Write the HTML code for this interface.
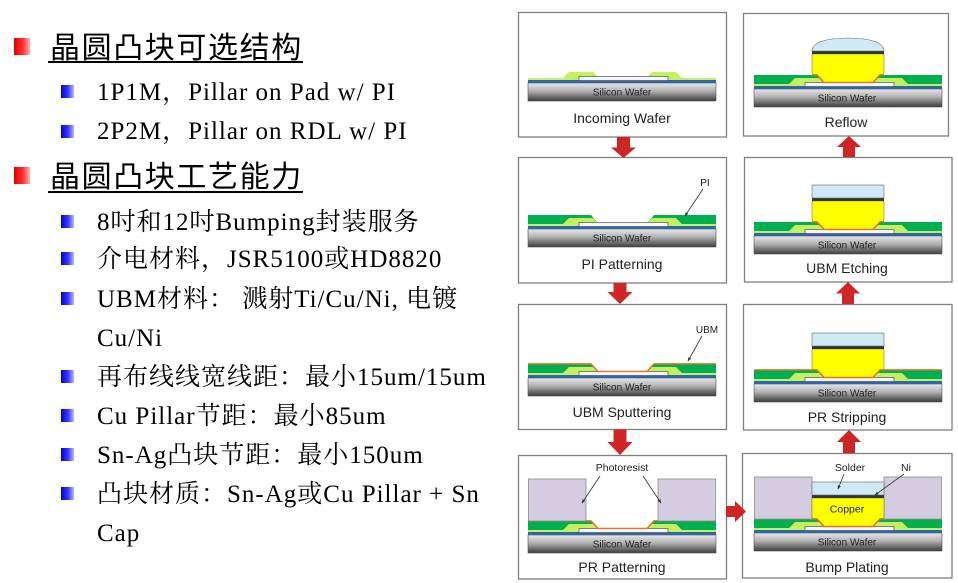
<!DOCTYPE html>
<html><head><meta charset="utf-8">
<style>
html,body{margin:0;padding:0;background:#fff;}
body{width:958px;height:583px;position:relative;overflow:hidden;}
.h{position:absolute;left:50px;font-family:"Liberation Sans","Noto Sans CJK SC",sans-serif;font-size:30px;line-height:36px;letter-spacing:1.6px;white-space:nowrap;color:#000;}
.ul{position:absolute;left:48px;width:255px;height:1.6px;background:#000;}
.rb{position:absolute;left:14px;width:16px;height:17px;background:linear-gradient(to right,#e00000,#ff3030 55%,#ffb0b0);}
.bb{position:absolute;left:61px;width:13px;height:13px;background:linear-gradient(to right,#0000e0,#3a3aff 55%,#b8b8ff);}
.s{position:absolute;left:97px;font-family:"Liberation Serif","Noto Serif CJK SC",serif;font-size:25px;line-height:30px;letter-spacing:1px;white-space:nowrap;color:#000;}
svg{position:absolute;left:0;top:0;}
.sw{font-family:"Liberation Sans",sans-serif;font-size:10px;fill:#222;text-anchor:middle;}
.lb{font-family:"Liberation Sans",sans-serif;font-size:14px;fill:#222;text-anchor:middle;}
.cl{font-family:"Liberation Sans",sans-serif;font-size:10px;fill:#222;text-anchor:middle;}
</style></head><body>

<div class="rb" style="top:38px"></div>
<div class="h" style="top:30.5px">晶圆凸块可选结构</div>
<div class="ul" style="top:61px"></div>

<div class="bb" style="top:85px"></div>
<div class="s" style="top:77.5px">1P1M，Pillar on Pad w/ PI</div>
<div class="bb" style="top:124.5px"></div>
<div class="s" style="top:116.5px">2P2M，Pillar on RDL w/ PI</div>

<div class="rb" style="top:167px"></div>
<div class="h" style="top:160px">晶圆凸块工艺能力</div>
<div class="ul" style="top:191px"></div>

<div class="bb" style="top:215px"></div>
<div class="s" style="top:207.5px">8吋和12吋Bumping封装服务</div>
<div class="bb" style="top:252px"></div>
<div class="s" style="top:245px">介电材料，JSR5100或HD8820</div>
<div class="bb" style="top:292px"></div>
<div class="s" style="top:284.5px">UBM材料： 溅射Ti/Cu/Ni, 电镀</div>
<div class="s" style="top:323.5px">Cu/Ni</div>
<div class="bb" style="top:369.5px"></div>
<div class="s" style="top:362.5px">再布线线宽线距：最小15um/15um</div>
<div class="bb" style="top:408.5px"></div>
<div class="s" style="top:401.5px">Cu Pillar节距：最小85um</div>
<div class="bb" style="top:447.5px"></div>
<div class="s" style="top:440.5px">Sn-Ag凸块节距：最小150um</div>
<div class="bb" style="top:486.5px"></div>
<div class="s" style="top:479.5px">凸块材质：Sn-Ag或Cu Pillar + Sn</div>
<div class="s" style="top:518.5px">Cap</div>

<svg width="958" height="583" viewBox="0 0 958 583" xmlns="http://www.w3.org/2000/svg">
<defs>
<linearGradient id="gw" x1="0" y1="0" x2="0" y2="1">
 <stop offset="0" stop-color="#e8e8e8"/>
 <stop offset="0.45" stop-color="#b0b0b0"/>
 <stop offset="1" stop-color="#3c3c3c"/>
</linearGradient>
<marker id="ah" viewBox="0 0 10 10" refX="9" refY="5" markerWidth="5" markerHeight="5" orient="auto"><path d="M0,1 L10,5 L0,9 Z" fill="#333"/></marker>
<g id="wafer">
 <rect x="0" y="0" width="188" height="18" fill="url(#gw)" stroke="#505050" stroke-width="0.6"/>
 <rect x="0" y="-3" width="188" height="3" fill="#2d66aa"/>
</g>
<g id="pi">
 <polygon points="0,-4 0,-14 63,-14 70,-6 51,-6 51,-4" fill="#00b050"/>
 <polygon points="188,-4 188,-14 126,-14 119,-6 140,-6 140,-4" fill="#00b050"/>
</g>
<g id="pass">
 <path d="M0,-3 V-5 H35 L41,-11 H65 L70,-6 H119 L124,-11 H148 L154,-5 H188 V-3 Z" fill="#c4ef5e"/>
 <rect x="51" y="-6.5" width="89" height="4" fill="#f6f6f6" stroke="#555" stroke-width="0.7"/>
</g>
<polyline id="ubm" points="0,-14.2 63,-14.2 70,-6.6 119,-6.6 126,-14.2 188,-14.2" fill="none" stroke="#f07022" stroke-width="1.4"/>
<g id="pr">
 <rect x="0.5" y="-56" width="57.5" height="42" fill="#d4cce0" stroke="#8c8c8c" stroke-width="0.8"/>
 <rect x="130" y="-56" width="57.5" height="42" fill="#d4cce0" stroke="#8c8c8c" stroke-width="0.8"/>
</g>
<g id="cu">
 <path d="M58,-35 H130 V-16 Q130,-14.2 127,-14.2 H126 L119,-6.6 H70 L63,-14.2 H61 Q58,-14.2 58,-16 Z" fill="#ffff00" stroke="#777" stroke-width="0.6"/>
 <polyline points="58,-14.2 63,-14.2 70,-6.6 119,-6.6 126,-14.2 130,-14.2" fill="none" stroke="#f07022" stroke-width="1.4"/>
 <rect x="58" y="-38" width="72" height="3" fill="#333"/>
</g>
<rect id="sol" x="58" y="-51" width="72" height="13" fill="#cfe9f6" stroke="#666" stroke-width="0.6"/>
</defs>

<!-- Panel boxes -->
<g fill="#fff" stroke="#808080" stroke-width="1.3">
 <rect x="518.5" y="12.5" width="208" height="124.5"/>
 <rect x="518.5" y="157.5" width="208" height="125.5"/>
 <rect x="518.5" y="304.5" width="208" height="125"/>
 <rect x="518.5" y="455.5" width="208" height="123.5"/>
 <rect x="743.5" y="13.5" width="205" height="122.5"/>
 <rect x="744.5" y="157.5" width="207.5" height="124.5"/>
 <rect x="743.5" y="304.5" width="208.5" height="125.5"/>
 <rect x="742.5" y="453.5" width="209.5" height="124.5"/>
</g>

<!-- Incoming Wafer -->
<g transform="translate(528,83)">
 <use href="#wafer"/><use href="#pass"/>
 <text class="sw" x="94" y="12.5">Silicon Wafer</text>
</g>
<text class="lb" x="622" y="123">Incoming Wafer</text>

<!-- PI Patterning -->
<g transform="translate(528,229)">
 <use href="#wafer"/><use href="#pi"/><use href="#pass"/>
 <text class="sw" x="94" y="12.5">Silicon Wafer</text>
</g>
<text class="cl" x="705" y="186">PI</text>
<line x1="703" y1="189" x2="685" y2="216" stroke="#333" stroke-width="0.8" marker-end="url(#ah)"/>
<text class="lb" x="622" y="269">PI Patterning</text>

<!-- UBM Sputtering -->
<g transform="translate(528,378)">
 <use href="#wafer"/><use href="#pi"/><use href="#pass"/><use href="#ubm"/>
 <text class="sw" x="94" y="12.5">Silicon Wafer</text>
</g>
<text class="cl" x="707" y="333">UBM</text>
<line x1="702" y1="336" x2="688" y2="361" stroke="#333" stroke-width="0.8" marker-end="url(#ah)"/>
<text class="lb" x="622" y="417">UBM Sputtering</text>

<!-- PR Patterning -->
<g transform="translate(528,535)">
 <use href="#wafer"/><use href="#pi"/><use href="#pass"/><use href="#ubm"/><use href="#pr"/>
 <text class="sw" x="94" y="12.5">Silicon Wafer</text>
</g>
<text class="cl" x="622" y="471" style="font-size:10.5px">Photoresist</text>
<line x1="600" y1="476" x2="582" y2="503" stroke="#333" stroke-width="0.8" marker-end="url(#ah)"/>
<line x1="643" y1="476" x2="661" y2="503" stroke="#333" stroke-width="0.8" marker-end="url(#ah)"/>
<text class="lb" x="622" y="572">PR Patterning</text>

<!-- Reflow -->
<g transform="translate(754,89)">
 <use href="#wafer"/><use href="#pi"/><use href="#pass"/><use href="#cu"/>
 <path d="M58,-38 C58,-47 74,-51 94,-51 C114,-51 130,-47 130,-38 Z" fill="#cfe9f6" stroke="#666" stroke-width="0.6"/>
 <text class="sw" x="93" y="12.5">Silicon Wafer</text>
</g>
<text class="lb" x="846" y="127">Reflow</text>

<!-- UBM Etching -->
<g transform="translate(754,236)">
 <use href="#wafer"/><use href="#pi"/><use href="#pass"/><use href="#cu"/><use href="#sol"/>
 <text class="sw" x="93" y="12.5">Silicon Wafer</text>
</g>
<text class="lb" x="847" y="273">UBM Etching</text>

<!-- PR Stripping -->
<g transform="translate(754,384)">
 <use href="#wafer"/><use href="#pi"/><use href="#pass"/><use href="#ubm"/><use href="#cu"/><use href="#sol"/>
 <text class="sw" x="93" y="12.5">Silicon Wafer</text>
</g>
<text class="lb" x="847" y="422">PR Stripping</text>

<!-- Bump Plating -->
<g transform="translate(754,533)">
 <use href="#wafer"/><use href="#pi"/><use href="#pass"/><use href="#ubm"/><use href="#pr"/><use href="#cu"/><use href="#sol"/>
 <text class="sw" x="93" y="12.5">Silicon Wafer</text>
 <text class="cl" x="93" y="-20.5" style="font-size:10.5px">Copper</text>
</g>
<text class="cl" x="850" y="471" style="font-size:10.5px">Solder</text>
<line x1="844" y1="474" x2="838" y2="489" stroke="#333" stroke-width="0.8" marker-end="url(#ah)"/>
<text class="cl" x="906" y="471" style="font-size:10.5px">Ni</text>
<line x1="904" y1="474" x2="875" y2="495" stroke="#333" stroke-width="0.8" marker-end="url(#ah)"/>
<text class="lb" x="847" y="572">Bump Plating</text>

<!-- Red arrows -->
<g fill="#d02525">
 <polygon points="617,137 630,137 630,147.5 636,147.5 623.5,158 611,147.5 617,147.5"/>
 <polygon points="613.5,283 626.5,283 626.5,292 632.5,292 620,304 607.5,292 613.5,292"/>
 <polygon points="613.5,429.5 626.5,429.5 626.5,442 632.5,442 620,455 607.5,442 613.5,442"/>
 <polygon points="843,157 855,157 855,147 861,147 849,136 837,147 843,147"/>
 <polygon points="842,304 854,304 854,293.5 860,293.5 848,282 836,293.5 842,293.5"/>
 <polygon points="843,453 855,453 855,442 861,442 849,430 837,442 843,442"/>
 <polygon points="726,506 735,506 735,501 746,511.5 735,522 735,517 726,517"/>
</g>
</svg>
</body></html>
